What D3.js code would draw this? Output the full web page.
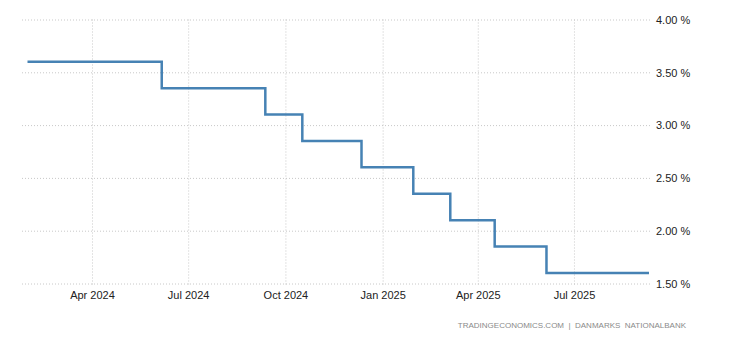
<!DOCTYPE html>
<html>
<head>
<meta charset="utf-8">
<script src="https://cdn.jsdelivr.net/npm/d3@7"></script>
<style>
  body { margin: 0; background: #fff; }
  text { font-family: "Liberation Sans", Arial, sans-serif; }
</style>
</head>
<body>
<div id="chart"></div>
<script>
// Data - Denmark interest rate (current account rate)
const dates = ["2024-01-31", "2024-06-06", "2024-09-12", "2024-10-17", "2024-12-12",
  "2025-01-30", "2025-03-06", "2025-04-17", "2025-06-05", "2025-09-10"];
const rates = [3.60, 3.35, 3.10, 2.85, 2.60, 2.35, 2.10, 1.85, 1.60, 1.60];
const yTicks = [1.5, 2.0, 2.5, 3.0, 3.5, 4.0];
const xTicks = ["2024-04-01", "2024-07-01", "2024-10-01", "2025-01-01", "2025-04-01", "2025-07-01"];
const sourceText = "TRADINGECONOMICS.COM  |  DANMARKS  NATIONALBANK";

const svgWidth = 730;
const svgHeight = 340;

const parse = d3.timeParse("%Y-%m-%d");
const data = dates.map((d, i) => ({ date: parse(d), value: rates[i] }));

const svg = d3.select("#chart")
  .append("svg")
  .attr("width", svgWidth)
  .attr("height", svgHeight);

const x = d3.scaleTime()
  .domain([parse(dates[0]), parse(dates[dates.length - 1])])
  .range([27.5, 649]);

const y = d3.scaleLinear()
  .domain([1.5, 4.0])
  .range([283.5, 19.5]);

// horizontal grid + right labels
const yAxis = d3.axisRight(y)
  .tickValues(yTicks)
  .tickSize(652 - 22)
  .tickFormat(d => d3.format(".2f")(d) + " %");

const yAxisG = svg.append("g")
  .attr("transform", "translate(22,0)")
  .call(yAxis);

yAxisG.select(".domain").remove();
yAxisG.selectAll("line")
  .attr("stroke", "#c8c8c8")
  .attr("stroke-dasharray", "1,2");
yAxisG.selectAll("text")
  .attr("x", 656 - 22)
  .attr("dy", "0.35em")
  .attr("fill", "#222")
  .style("font-size", "11px");

// vertical grid + bottom labels
const xAxis = d3.axisBottom(x)
  .tickValues(xTicks.map(parse))
  .tickSize(283.5 - 19.5 + 3)
  .tickFormat(d3.timeFormat("%b %Y"));

const xAxisG = svg.append("g")
  .attr("transform", "translate(0,19.5)")
  .call(xAxis);

xAxisG.select(".domain").remove();
xAxisG.selectAll("line")
  .attr("stroke", "#c8c8c8")
  .attr("stroke-dasharray", "1,2");
xAxisG.selectAll("text")
  .attr("y", 283.5 - 19.5 + 8)
  .attr("dy", "0.71em")
  .attr("fill", "#222")
  .style("font-size", "11px");

// step line
const line = d3.line()
  .x(d => x(d.date))
  .y(d => y(d.value))
  .curve(d3.curveStepAfter);

svg.append("path")
  .datum(data)
  .attr("fill", "none")
  .attr("stroke", "#4682b4")
  .attr("stroke-width", 2.5)
  .attr("d", line);

// source
svg.append("text")
  .attr("x", 686)
  .attr("y", 328)
  .attr("text-anchor", "end")
  .attr("fill", "#8a8a8a")
  .style("font-size", "8px")
  .style("white-space", "pre")
  .attr("xml:space", "preserve")
  .text(sourceText);
</script>
</body>
</html>
